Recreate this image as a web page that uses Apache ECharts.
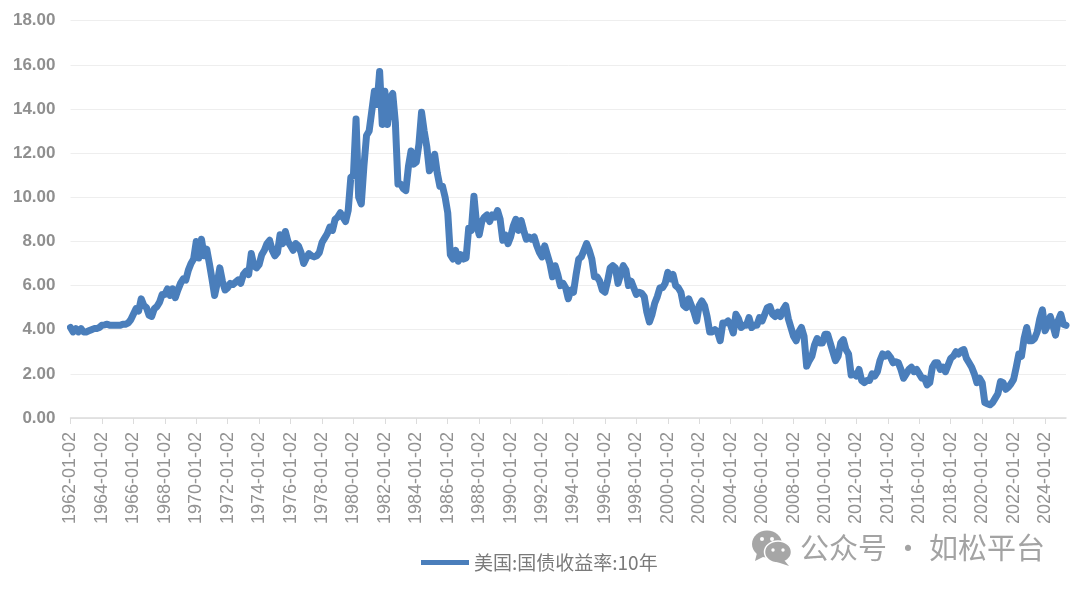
<!DOCTYPE html>
<html>
<head>
<meta charset="utf-8">
<style>
html, body { margin: 0; padding: 0; background: #fff; }
#chart { width: 1080px; height: 591px; filter: blur(0.6px); }
</style>
<script src="https://cdn.jsdelivr.net/npm/echarts@6/dist/echarts.min.js"></script>
</head>
<body>
<div id="chart"></div>
<script>
var seriesName = '美国:国债收益率:10年';
var watermark = '公众号 · 如松平台';
var yTicks = [0, 2, 4, 6, 8, 10, 12, 14, 16, 18];

// 每两个月一个点 (1,3,5,7,9,11月)
var yields = [
  4.10,3.90,4.05,3.90,4.05,3.90, // 1962
  3.90,3.95,4.00,4.05,4.05,4.10,
  4.20,4.22,4.25,4.20,4.20,4.20, // 1964
  4.20,4.20,4.25,4.25,4.30,4.45,
  4.70,4.95,4.85,5.40,5.10,5.00, // 1966
  4.65,4.60,4.95,5.05,5.25,5.60,
  5.60,5.85,5.55,5.85,5.45,5.80, // 1968
  6.10,6.30,6.25,6.70,7.00,7.20,
  8.00,7.25,8.10,7.35,7.65,7.00, // 1970
  6.30,5.55,6.10,6.80,6.20,5.80,
  5.90,6.10,6.05,6.15,6.25,6.10, // 1972
  6.50,6.65,6.50,7.45,6.90,6.80,
  6.95,7.40,7.60,7.90,8.05,7.60, // 1974
  7.35,7.50,8.30,7.90,8.45,8.00,
  7.80,7.60,7.90,7.80,7.50,7.00, // 1976
  7.25,7.45,7.35,7.30,7.35,7.50,
  7.95,8.15,8.35,8.65,8.50,9.00, // 1978
  9.10,9.30,9.10,8.90,9.40,10.90,
  11.00,13.55,10.00,9.70,11.40,12.80, // 1980
  13.00,13.90,14.80,14.20,15.70,13.30,
  14.80,13.30,14.50,14.70,13.40,10.60, // 1982
  10.60,10.40,10.30,11.40,12.10,11.50,
  11.60,12.40,13.85,13.00,12.30,11.20, // 1984
  11.40,11.95,11.10,10.50,10.50,10.00,
  9.30,7.40,7.20,7.60,7.10,7.40, // 1986
  7.20,7.25,8.60,8.50,10.05,8.80,
  8.30,8.90,9.10,9.20,8.90,9.20, // 1988
  9.10,9.40,9.00,8.05,8.30,7.90,
  8.20,8.70,9.00,8.50,8.95,8.50, // 1990
  8.10,8.20,8.10,8.20,7.80,7.50,
  7.30,7.80,7.40,7.00,6.40,6.90, // 1992
  6.50,6.00,6.10,5.90,5.40,5.80,
  5.70,6.50,7.20,7.30,7.60,7.90, // 1994
  7.60,7.20,6.40,6.40,6.20,5.80,
  5.70,6.20,6.80,6.90,6.80,6.10, // 1996
  6.50,6.90,6.70,6.00,6.20,5.90,
  5.60,5.70,5.65,5.50,4.80,4.35, // 1998
  4.70,5.20,5.50,5.90,5.90,6.10,
  6.60,6.30,6.50,6.00,5.90,5.70, // 2000
  5.10,5.00,5.40,5.10,4.80,4.40,
  5.10,5.30,5.10,4.60,3.90,3.90, // 2002
  4.00,3.90,3.50,4.30,4.30,4.40,
  4.20,3.85,4.70,4.50,4.10,4.20, // 2004
  4.20,4.55,4.10,4.20,4.20,4.55,
  4.40,4.70,5.00,5.05,4.70,4.60, // 2006
  4.80,4.60,4.90,5.10,4.50,4.10,
  3.70,3.50,3.90,4.10,3.70,2.35, // 2008
  2.60,2.80,3.30,3.60,3.40,3.40,
  3.80,3.80,3.40,3.00,2.60,2.80, // 2010
  3.40,3.55,3.10,2.90,1.95,2.00,
  1.90,2.20,1.70,1.60,1.70,1.70, // 2012
  2.00,1.90,2.10,2.60,2.90,2.80,
  2.90,2.75,2.50,2.55,2.50,2.20, // 2014
  1.80,2.00,2.20,2.30,2.10,2.20,
  2.00,1.80,1.80,1.50,1.60,2.30, // 2016
  2.50,2.50,2.20,2.30,2.10,2.40,
  2.70,2.80,3.00,2.90,3.05,3.10, // 2018
  2.70,2.50,2.30,2.00,1.60,1.80,
  1.60,0.70,0.65,0.60,0.70,0.90, // 2020
  1.10,1.65,1.60,1.30,1.40,1.55,
  1.75,2.30,2.90,2.80,3.60,4.10, // 2022
  3.50,3.50,3.60,3.90,4.50,4.90,
  3.95,4.20,4.60,4.20,3.75,4.40, // 2024
  4.70,4.25,4.20
];

var categories = [];
var k = 0;
for (var y = 1962; k < yields.length; y++) {
    var months = ['01', '03', '05', '07', '09', '11'];
    for (var m = 0; m < months.length && k < yields.length; m++, k++) {
        categories.push(y + '-' + months[m] + '-02');
    }
}

var chart = echarts.init(document.getElementById('chart'));
var option = {
    animation: false,
    grid: { left: 70.5, right: 14, top: 20.7, bottom: 173 },
    legend: {
        left: 416,
        top: 548,
        itemWidth: 48,
        itemHeight: 5,
        itemGap: 5,
        icon: 'rect',
        textStyle: { fontFamily: '"Noto Sans CJK SC"', fontSize: 19, color: '#7a7a7a' },
        data: [seriesName]
    },
    xAxis: {
        type: 'category',
        boundaryGap: false,
        data: categories,
        axisLine: { lineStyle: { color: '#dcdcdc', width: 1.5 } },
        axisTick: { interval: 11, length: 6, lineStyle: { color: '#dcdcdc' } },
        axisLabel: {
            interval: 11,
            rotate: 90,
            margin: 14,
            fontFamily: '"Liberation Sans"',
            fontSize: 18,
            color: '#929292'
        }
    },
    yAxis: {
        type: 'value',
        min: yTicks[0],
        max: yTicks[yTicks.length - 1],
        interval: 2,
        axisLine: { show: false },
        axisTick: { show: false },
        splitLine: { lineStyle: { color: '#eeeeee', width: 1 } },
        axisLabel: {
            margin: 15,
            fontFamily: '"Liberation Sans"',
            fontSize: 17,
            fontWeight: 'bold',
            color: '#8f8f8f',
            formatter: function (v) { return v.toFixed(2); }
        }
    },
    series: [{
        name: seriesName,
        type: 'line',
        data: yields,
        showSymbol: false,
        itemStyle: { color: '#4a7ebb' },
        lineStyle: { color: '#4a7ebb', width: 7, join: 'round', cap: 'round' }
    }],
    graphic: [
        // 微信图标 + 水印
        { type: 'ellipse', shape: { cx: 767, cy: 544, rx: 15, ry: 13.5 }, style: { fill: '#a6a6a6' } },
        { type: 'polygon', shape: { points: [[757, 553], [755, 561], [765, 556]] }, style: { fill: '#a6a6a6' } },
        { type: 'ellipse', shape: { cx: 778, cy: 552, rx: 13.5, ry: 11 }, style: { fill: '#a6a6a6', stroke: '#fff', lineWidth: 1.5 } },
        { type: 'polygon', shape: { points: [[784, 560], [789, 566], [777, 562]] }, style: { fill: '#a6a6a6' } },
        { type: 'circle', shape: { cx: 762, cy: 539, r: 2 }, style: { fill: '#fff' } },
        { type: 'circle', shape: { cx: 772, cy: 539, r: 2 }, style: { fill: '#fff' } },
        { type: 'circle', shape: { cx: 773, cy: 550, r: 1.7 }, style: { fill: '#fff' } },
        { type: 'circle', shape: { cx: 783, cy: 550, r: 1.7 }, style: { fill: '#fff' } },
        {
            type: 'text',
            left: 800,
            top: 533,
            style: {
                text: watermark,
                font: '29px "Noto Sans CJK SC"',
                fill: '#a3a3a3'
            }
        }
    ]
};
chart.setOption(option);
window.onresize = chart.resize;
</script>
</body>
</html>
